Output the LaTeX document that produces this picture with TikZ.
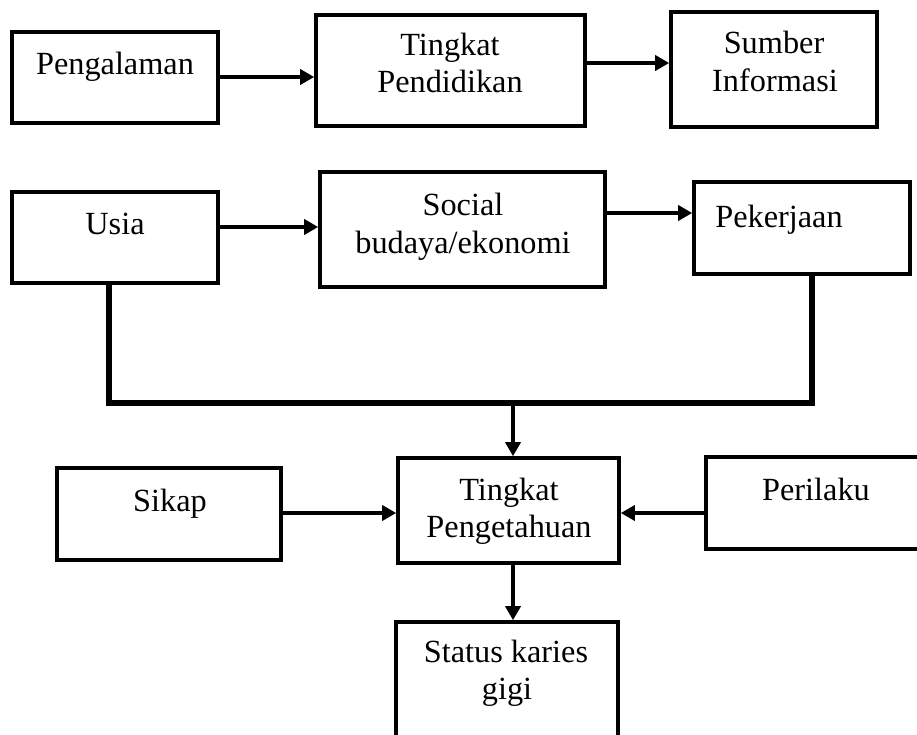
\documentclass[tikz,border=0pt]{standalone}
\usepackage{fontspec}
\setmainfont{Liberation Serif}
\usetikzlibrary{arrows.meta}
\begin{document}
\begin{tikzpicture}[x=1pt,y=-1pt,
  box/.style={draw, line width=3.6pt, inner sep=0pt, rectangle},
  txt/.style={font=\fontsize{32.3}{37}\selectfont, inner sep=0pt, anchor=base},
  arr/.style={line width=3.4pt, -{Triangle[length=14pt,width=15pt]}},
  link/.style={line width=5.5pt},
]
\useasboundingbox (0,0) rectangle (917,735);
\clip (0,0) rectangle (917,735);
\fill[white] (0,0) rectangle (917,735);

% boxes
\node[box, minimum width=206pt, minimum height=91pt]  (peng)   at (115,77.5) {};
\node[box, minimum width=269pt, minimum height=111pt] (pend)   at (450.5,70.5) {};
\node[box, minimum width=206pt, minimum height=115pt] (sumb)   at (774,69.5) {};
\node[box, minimum width=206pt, minimum height=91pt]  (usia)   at (115,237.5) {};
\node[box, minimum width=285pt, minimum height=115pt] (soc)    at (462.5,229.5) {};
\node[box, minimum width=216pt, minimum height=92pt]  (pek)    at (802,228) {};
\node[box, minimum width=224pt, minimum height=92pt]  (sikap)  at (169,514) {};
\node[box, minimum width=221pt, minimum height=105pt] (tp)     at (508.5,510.5) {};
\node[box, minimum width=224pt, minimum height=92pt]  (peri)   at (818,503) {};
\node[box, minimum width=222pt, minimum height=140pt] (status) at (507,692) {};

% texts
\node[txt] (t1)  at (115,75)  {Pengalaman};
\node[txt] (t2a) at (450,56)  {Tingkat};
\node[txt] (t2b) at (450,93)  {Pendidikan};
\node[txt] (t3a) at (774,54)  {Sumber};
\node[txt] (t3b) at (775,92)  {Informasi};
\node[txt] (t4)  at (115,234) {Usia};
\node[txt] (t5a) at (463,216) {Social};
\node[txt] (t5b) at (463,253) {budaya/ekonomi};
\node[txt] (t6)  at (779,227) {Pekerjaan};
\node[txt] (t7)  at (170,511) {Sikap};
\node[txt] (t8a) at (509,500) {Tingkat};
\node[txt] (t8b) at (509,537) {Pengetahuan};
\node[txt] (t9)  at (816,500) {Perilaku};
\node[txt] (t10a) at (506,662) {Status karies};
\node[txt] (t10b) at (507,699) {gigi};

% rows for arrows
\coordinate (r1) at (0,77);
\coordinate (r2) at (0,63);
\coordinate (r3) at (0,227);
\coordinate (r4) at (0,213);
\coordinate (r5) at (0,513);
\coordinate (jl) at (109,403);
\coordinate (jr) at (812,403);
\coordinate (jm) at (513,403);

\draw[arr] (peng.east |- r1) -- (pend.west |- r1);
\draw[arr] (pend.east |- r2) -- (sumb.west |- r2);
\draw[arr] (usia.east |- r3) -- (soc.west |- r3);
\draw[arr] (soc.east |- r4) -- (pek.west |- r4);

\draw[link] (usia.south -| jl) -- (jl) -- (jr) -- (pek.south -| jr);
\draw[arr] (jm) -- (tp.north -| jm);
\draw[arr] (sikap.east |- r5) -- (tp.west |- r5);
\draw[arr] (peri.west |- r5) -- (tp.east |- r5);
\draw[arr] (tp.south -| jm) -- (status.north -| jm);
\end{tikzpicture}
\end{document}
